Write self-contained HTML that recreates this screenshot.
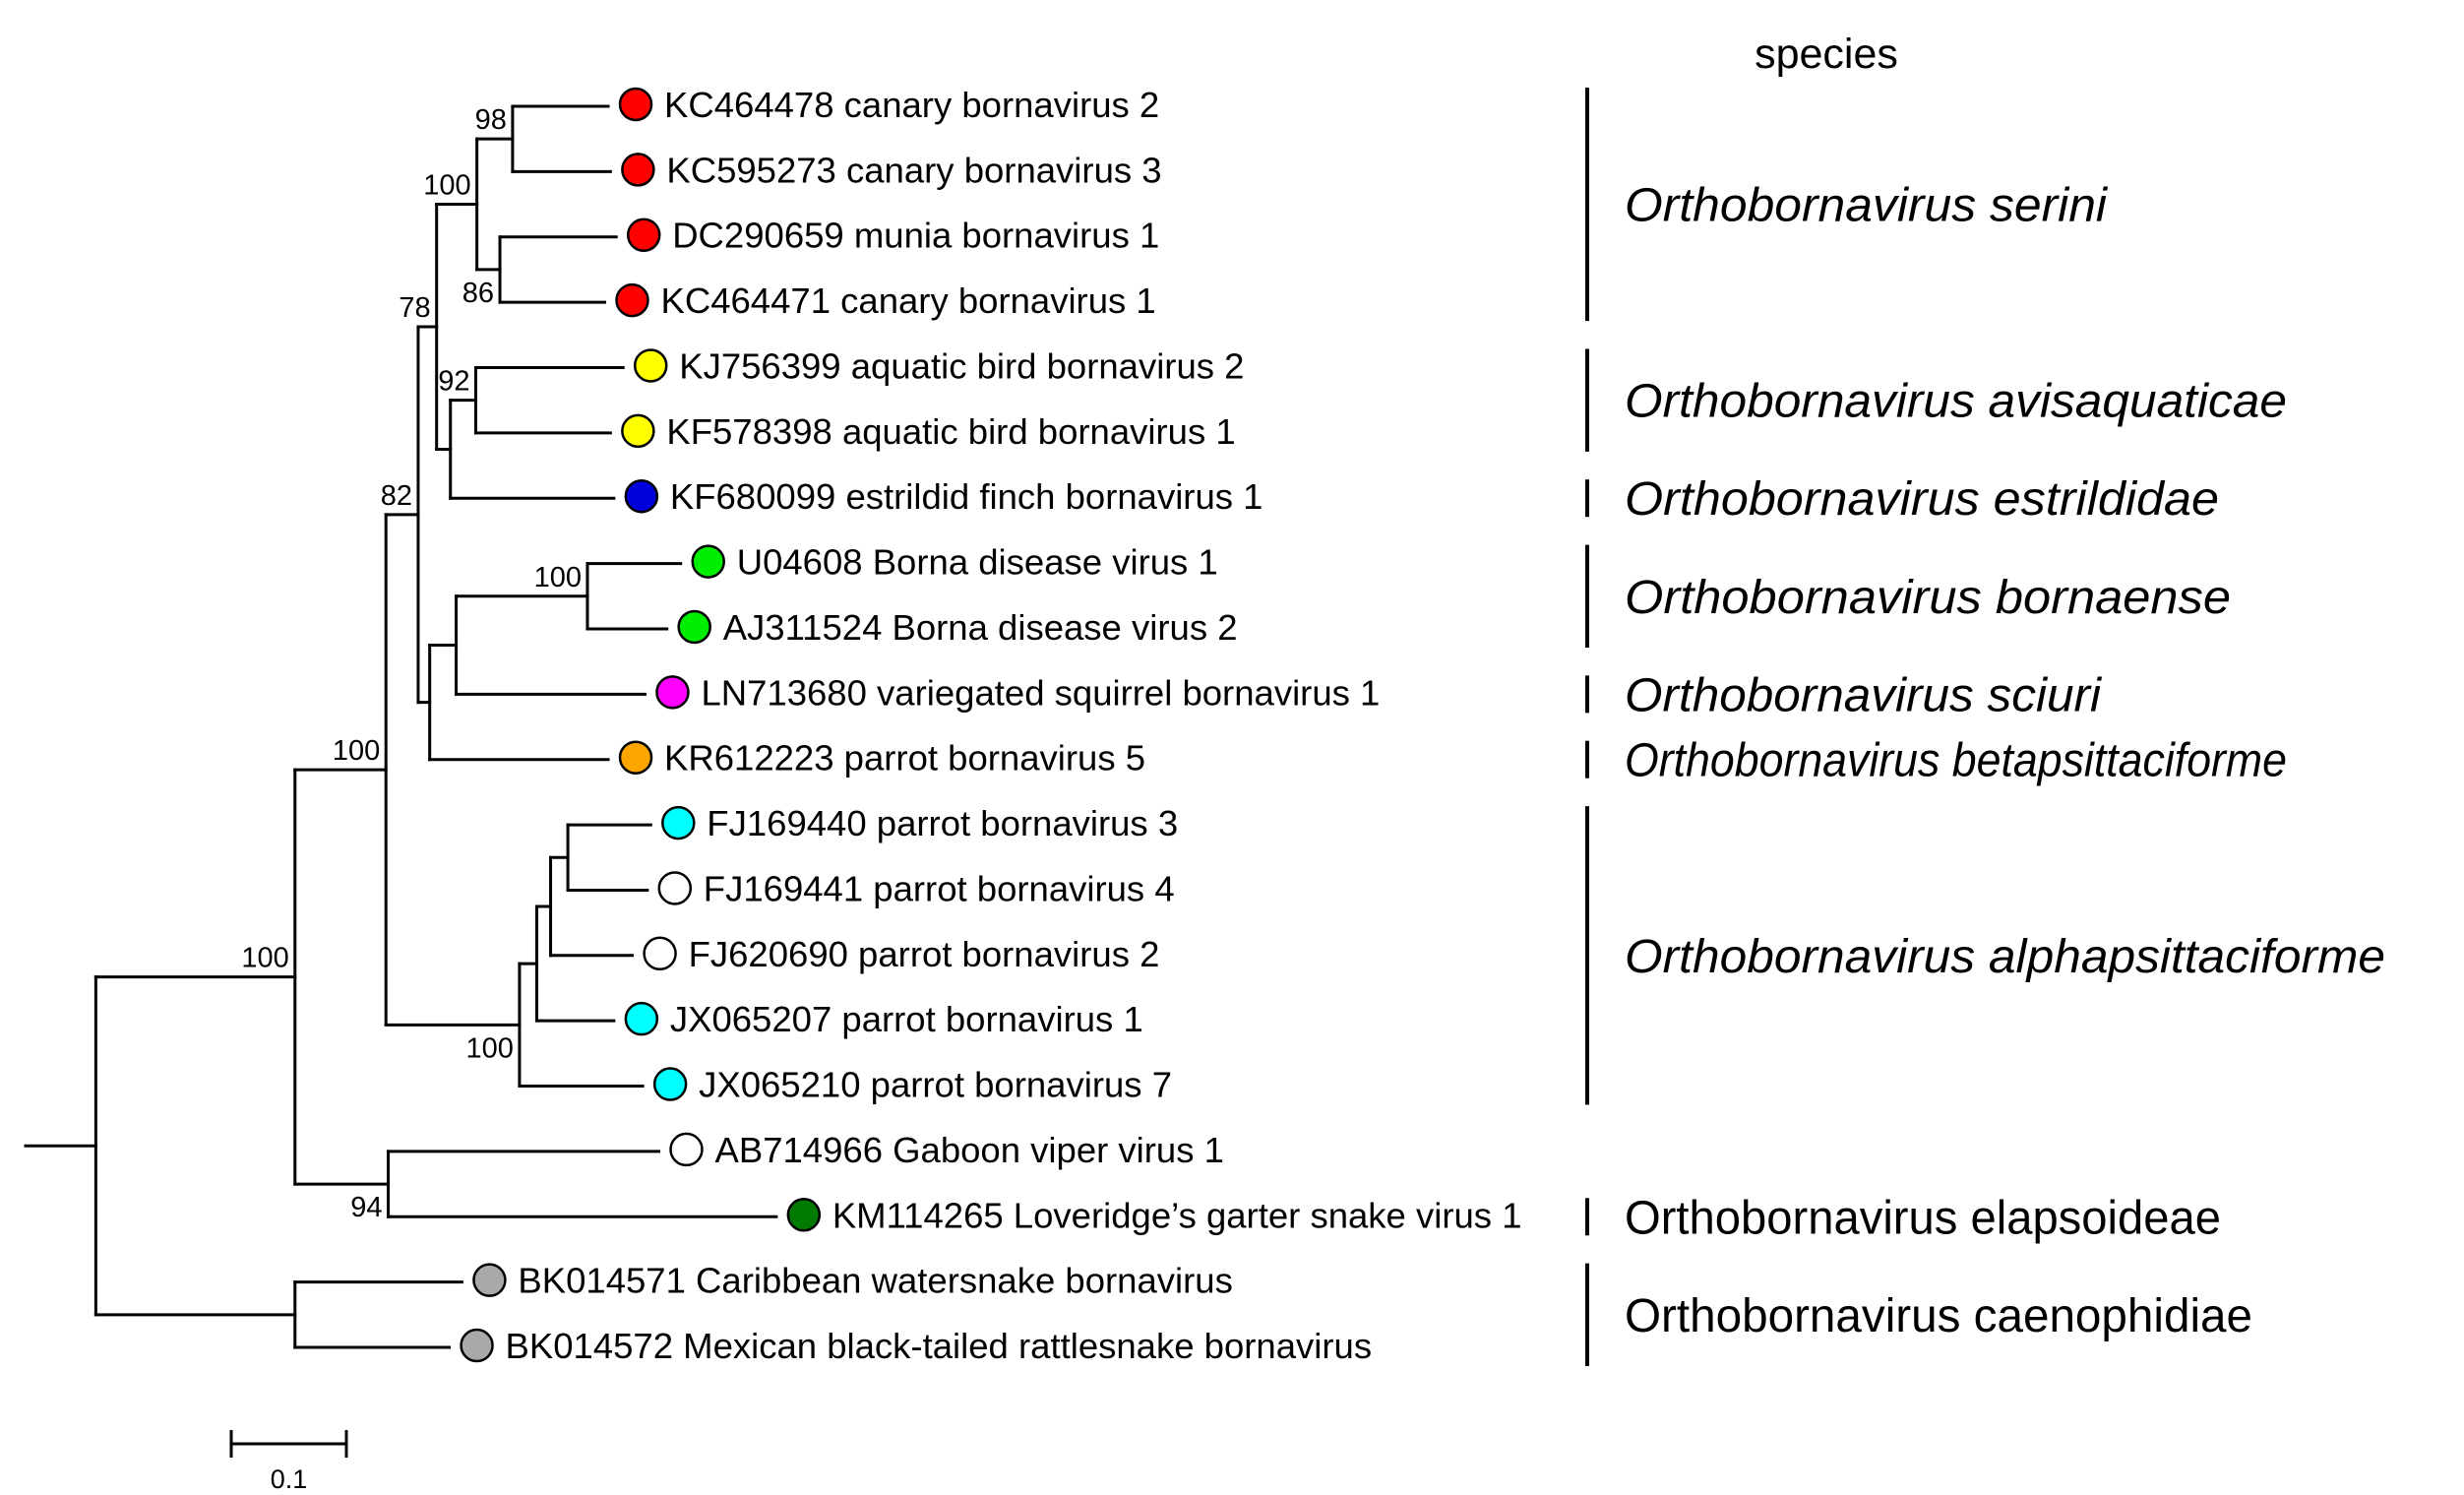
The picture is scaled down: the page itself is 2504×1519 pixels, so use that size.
<!DOCTYPE html>
<html><head><meta charset="utf-8"><style>
html,body{margin:0;padding:0;background:#fff;}
svg{display:block;font-family:"Liberation Sans",sans-serif;}
</style></head><body>
<svg id="tree" width="2504" height="1519" viewBox="0 0 2504 1519" xmlns="http://www.w3.org/2000/svg">
<g id="branches" stroke="#000" stroke-width="3" fill="none" stroke-linecap="square"></g>
<g id="tips"></g>
<g id="supports" font-size="29" fill="#000"></g>
<g id="species"></g>
<g id="scalebar"></g>
</svg>
<script>
// ---- data ----
const tipNames = ["KC464478 canary bornavirus 2","KC595273 canary bornavirus 3","DC290659 munia bornavirus 1","KC464471 canary bornavirus 1","KJ756399 aquatic bird bornavirus 2","KF578398 aquatic bird bornavirus 1","KF680099 estrildid finch bornavirus 1","U04608 Borna disease virus 1","AJ311524 Borna disease virus 2","LN713680 variegated squirrel bornavirus 1","KR612223 parrot bornavirus 5","FJ169440 parrot bornavirus 3","FJ169441 parrot bornavirus 4","FJ620690 parrot bornavirus 2","JX065207 parrot bornavirus 1","JX065210 parrot bornavirus 7","AB714966 Gaboon viper virus 1","KM114265 Loveridge\u2019s garter snake virus 1","BK014571 Caribbean watersnake bornavirus","BK014572 Mexican black-tailed rattlesnake bornavirus"];
const tipColors = ["#ff0000","#ff0000","#ff0000","#ff0000","#ffff00","#ffff00","#0000dd","#00ee00","#00ee00","#ff00ff","#ffa500","#00ffff","#ffffff","#ffffff","#00ffff","#00ffff","#ffffff","#007a00","#a9a9a9","#a9a9a9"];
const tipDepth = [0.506,0.508,0.513,0.503,0.519,0.508,0.511,0.569,0.557,0.538,0.506,0.543,0.540,0.527,0.511,0.536,0.550,0.652,0.379,0.368];
const nodeIds = ["n98","n86","nS","n92b","n92","n78","nBorna","nG","nH","nE","nF3","nF2","nF1","nF","nC","nD","nB","nCae","nA"];
const nodeDepth = [0.423,0.412,0.392,0.391,0.369,0.357,0.488,0.374,0.351,0.341,0.471,0.456,0.444,0.429,0.313,0.315,0.234,0.234,0.061];
const nodeChildren = [["t0","t1"],["t2","t3"],["n98","n86"],["t4","t5"],["n92b","t6"],["nS","n92"],["t7","t8"],["nBorna","t9"],["nG","t10"],["n78","nH"],["t11","t12"],["nF3","t13"],["nF2","t14"],["nF1","t15"],["nE","nF"],["t16","t17"],["nC","nD"],["t18","t19"],["nB","nCae"]];
const nodeSupport = ["98","86","100","92","","78","100","","","82","","","","100","100","94","100","",""];
const supportBelow = [false,true,false,false,false,false,false,false,false,false,false,false,false,true,false,true,false,false,false];
const speciesNames = ["Orthobornavirus serini","Orthobornavirus avisaquaticae","Orthobornavirus estrildidae","Orthobornavirus bornaense","Orthobornavirus sciuri","Orthobornavirus betapsittaciforme","Orthobornavirus alphapsittaciforme","Orthobornavirus elapsoideae","Orthobornavirus caenophidiae"];
const speciesFirstTip = [0,4,6,7,9,10,11,17,18];
const speciesLastTip = [3,5,6,8,9,10,15,17,19];
const speciesItalic = [true,true,true,true,true,true,true,false,false];
const scaleBarValue = 0.1;

// ---- axes ----
const X0 = 26, XS = 1170;
function x(d){ return X0 + d*XS; }
function yTip(i){ return 108 + i*66.37; }
const NS = "http://www.w3.org/2000/svg";
function mk(tag, attrs, parent){ const e=document.createElementNS(NS,tag); for(const k in attrs) e.setAttribute(k,attrs[k]); parent.appendChild(e); return e; }

const gB = document.getElementById('branches');
const gT = document.getElementById('tips');
const gS = document.getElementById('supports');
const gSp = document.getElementById('species');
const gSc = document.getElementById('scalebar');

const pos = {};
tipNames.forEach((n,i)=>{ pos["t"+i] = {x:x(tipDepth[i]), y:yTip(i)}; });
nodeIds.forEach((id,k)=>{
  const ys = nodeChildren[k].map(c=>pos[c].y);
  pos[id] = {x:x(nodeDepth[k]), y:(ys[0]+ys[ys.length-1])/2};
});

nodeIds.forEach((id,k)=>{
  const p = pos[id];
  const ys = nodeChildren[k].map(c=>pos[c].y);
  const v = mk('line',{x1:p.x,y1:Math.min(...ys),x2:p.x,y2:Math.max(...ys)},gB);
  
  
  nodeChildren[k].forEach(c=>{
    const h = mk('line',{x1:p.x,y1:pos[c].y,x2:pos[c].x,y2:pos[c].y},gB);
    
    
  });
  if(nodeSupport[k]){
    const t = mk('text',{x:p.x-6,y:supportBelow[k]?p.y+33:p.y-10,'text-anchor':'end'},gS);
    t.textContent = nodeSupport[k];
    
    
  }
});
const rootNode = pos["nA"];
const rs = mk('line',{x1:x(0),y1:rootNode.y,x2:rootNode.x,y2:rootNode.y},gB);



tipNames.forEach((n,i)=>{
  const p = pos["t"+i];
  const c = mk('circle',{cx:p.x+28,cy:p.y-2,r:16,fill:tipColors[i],stroke:'#000','stroke-width':2.5},gT);
  
  
  const t = mk('text',{x:p.x+57,y:p.y+11,'font-size':36.5,fill:'#000'},gT);
  t.textContent = n;
  
  
});

const hdr = mk('text',{x:1856,y:69,'text-anchor':'middle','font-size':43,fill:'#000'},gSp);
hdr.textContent = 'species';


const spWidths = [490,673,604,616,484,673,773,606,638];
speciesNames.forEach((n,k)=>{
  const y1 = yTip(speciesFirstTip[k])-19, y2 = yTip(speciesLastTip[k])+19;
  const b = mk('line',{x1:1613,y1:y1,x2:1613,y2:y2,stroke:'#000','stroke-width':4},gSp);
  
  
  const t = mk('text',{x:1651,y:(y1+y2)/2+17,'font-size':48,fill:'#000','font-style':speciesItalic[k]?'italic':'normal',textLength:spWidths[k],lengthAdjust:'spacingAndGlyphs'},gSp);
  t.textContent = n;
  
  
});

const sx1 = x(0)+209, sx2 = sx1 + scaleBarValue*XS;
[[sx1,1467,sx2,1467],[sx1,1453,sx1,1481],[sx2,1453,sx2,1481]].forEach((a,k)=>{
  const l = mk('line',{x1:a[0],y1:a[1],x2:a[2],y2:a[3],stroke:'#000','stroke-width':3},gSc);
  
  
});
const sl = mk('text',{x:(sx1+sx2)/2,y:1512,'text-anchor':'middle','font-size':27,fill:'#000'},gSc);
sl.textContent = String(scaleBarValue);


</script>
</body></html>
